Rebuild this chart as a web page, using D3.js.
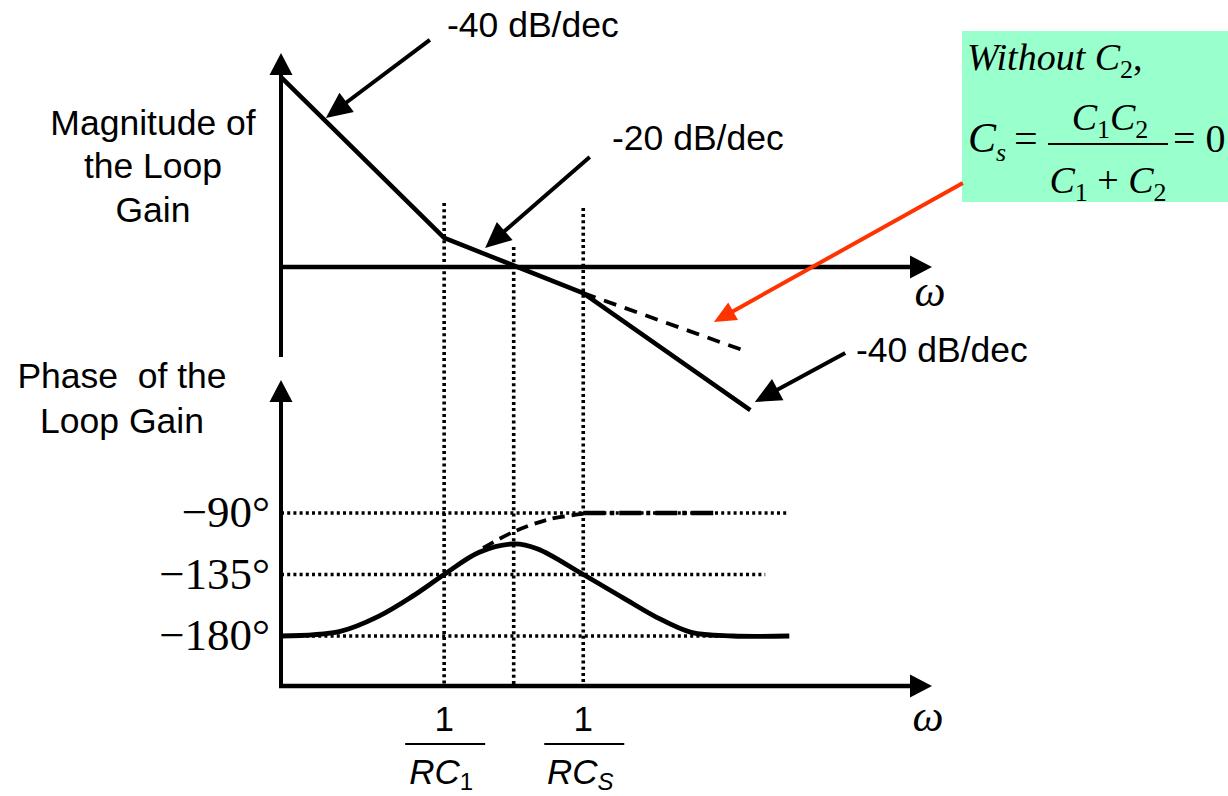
<!DOCTYPE html>
<html><head><meta charset="utf-8">
<script src="https://cdn.jsdelivr.net/npm/d3@7"></script>
<style>body{margin:0;background:#fff}svg{display:block}</style>
</head><body>
<svg id="c" width="1228" height="796"></svg>
<script>
// ---------------- data ----------------
const magW = [0, 25.1, 46.5, 72.2];
const magDB = [63.3, 9.7, -8.7, -47.7];
const magNoC2W = [46.5, 71.8];
const magNoC2DB = [-8.7, -28.3];
const phaseW = [0, 9.1, 15.0, 20.2, 25.1, 30.5, 35.9, 39.5, 46.5, 52.5, 57.8, 63.1, 69.5, 78.2];
const phaseDeg = [-180, -176.6, -165.6, -151, -135, -118.7, -112.6, -116.3, -135, -151.7, -166.3, -177.3, -180, -180];
const phaseNoC2W = [31.1, 35.7, 41.4, 46.5];
const phaseNoC2Deg = [-115.6, -103.9, -94.4, -90.7];
const phaseNoC2FlatW = [46.5, 67];
const phaseTicks = [-90, -135, -180];
const phaseTickLabels = ["\u221290\u00b0", "\u2212135\u00b0", "\u2212180\u00b0"];
const phaseGridEndW = [78.2, 74.5, 78.2];
const markerW = [25.1, 35.8, 46.5];
const markerTopDB = [21.3, 6.7, 19.7];
const markerLabels = [["1", "RC", "1"], null, ["1", "RC", "S"]];
const slopeLabels = ["-40 dB/dec", "-20 dB/dec", "-40 dB/dec"];
// annotation arrows: [tailW, tailDB, tipW, tipDB]
const slopeArrows = [[22.9, 75.7, 6.9, 49.7], [47.5, 36.7, 31.4, 6.3], [86.8, -28.7, 72.9, -45]];
const noteArrow = [104.9, 28, 66.6, -18.3];

// ---------------- layout ----------------
const svg = d3.select("#c");
const SANS = "'Liberation Sans', Arial, sans-serif";
const SERIF = "'Liberation Serif', 'Times New Roman', serif";
const x = d3.scaleLinear().domain([0, 100]).range([281, 931]);
const yMag = d3.scaleLinear().domain([-50, 70]).range([417, 57]);
const yPh = d3.scaleLinear().domain([-180, -90]).range([636, 513]);
const phAxisY = 686;

function arrow(x1, y1, x2, y2, color, w, len, half) {
  const dx = x2 - x1, dy = y2 - y1, L = Math.hypot(dx, dy);
  const ux = dx / L, uy = dy / L;
  const bx = x2 - ux * len, by = y2 - uy * len;
  svg.append("line").attr("x1", x1).attr("y1", y1).attr("x2", bx + ux * 2).attr("y2", by + uy * 2)
    .attr("stroke", color).attr("stroke-width", w);
  svg.append("polygon").attr("fill", color)
    .attr("points", [[x2, y2], [bx - uy * half, by + ux * half], [bx + uy * half, by - ux * half]].map(p => p.join(",")).join(" "));
}
const dotted = s => s.attr("stroke", "#000").attr("stroke-width", 3.6).attr("stroke-dasharray", "3 3.2").attr("fill", "none");

// vertical marker lines
markerW.forEach((w, i) => {
  svg.append("line").attr("x1", x(w)).attr("x2", x(w)).attr("y1", yMag(markerTopDB[i])).attr("y2", phAxisY).call(dotted);
});
// phase grid lines
phaseTicks.forEach((t, i) => {
  svg.append("line").attr("x1", x(0)).attr("x2", x(phaseGridEndW[i])).attr("y1", yPh(t)).attr("y2", yPh(t)).call(dotted);
  svg.append("text").attr("x", 270).attr("y", yPh(t) + 14).attr("text-anchor", "end")
    .attr("font-family", SERIF).attr("font-size", 45).text(phaseTickLabels[i]);
});

// axes
arrow(x(0), 357, x(0), 53, "#000", 4, 22, 11.5);
arrow(x(0), yMag(0), 932, yMag(0), "#000", 4.5, 22, 11.5);
arrow(x(0), phAxisY, x(0), 380, "#000", 4, 22, 11.5);
arrow(x(0) - 2, phAxisY, 932, phAxisY, "#000", 4.5, 22, 11.5);

// magnitude curves
const magLine = d3.line().x(d => x(d[0])).y(d => yMag(d[1]));
svg.append("path").attr("d", magLine(magNoC2W.map((w, i) => [w, magNoC2DB[i]])))
  .attr("fill", "none").attr("stroke", "#000").attr("stroke-width", 3.8).attr("stroke-dasharray", "13 9");
svg.append("path").attr("d", magLine(magW.map((w, i) => [w, magDB[i]])))
  .attr("fill", "none").attr("stroke", "#000").attr("stroke-width", 4.5).attr("stroke-linejoin", "round");

// phase curves
const phLine = d3.line().x(d => x(d[0])).y(d => yPh(d[1])).curve(d3.curveCatmullRom.alpha(0.5));
svg.append("path").attr("d", phLine(phaseNoC2W.map((w, i) => [w, phaseNoC2Deg[i]])))
  .attr("fill", "none").attr("stroke", "#000").attr("stroke-width", 3.8).attr("stroke-dasharray", "12 7");
svg.append("line").attr("x1", x(phaseNoC2FlatW[0])).attr("x2", x(phaseNoC2FlatW[1]))
  .attr("y1", yPh(-90)).attr("y2", yPh(-90))
  .attr("stroke", "#000").attr("stroke-width", 4.4).attr("stroke-dasharray", "22 5 4 5");
svg.append("path").attr("d", phLine(phaseW.map((w, i) => [w, phaseDeg[i]])))
  .attr("fill", "none").attr("stroke", "#000").attr("stroke-width", 4.8);

// slope annotations
slopeArrows.forEach(a => arrow(x(a[0]), yMag(a[1]), x(a[2]), yMag(a[3]), "#000", 4, 26, 12));
const slopePos = [[447, 37], [612, 150], [856, 362]];
slopeLabels.forEach((t, i) => svg.append("text").attr("x", slopePos[i][0]).attr("y", slopePos[i][1])
  .attr("font-family", SANS).attr("font-size", 35.5).text(t));

// axis titles
[["Magnitude of", 153, 135], ["the Loop", 153, 178], ["Gain", 153, 222],
 ["Phase\u00a0 of the", 122, 388], ["Loop Gain", 122, 433]].forEach(d =>
  svg.append("text").attr("x", d[1]).attr("y", d[2]).attr("text-anchor", "middle")
    .attr("font-family", SANS).attr("font-size", 35.5).text(d[0]));

// omega labels
[[930, 306], [928, 731]].forEach(p => svg.append("text").attr("x", p[0]).attr("y", p[1]).attr("text-anchor", "middle")
  .attr("font-family", SERIF).attr("font-style", "italic").attr("font-size", 44).text("\u03c9"));

// 1/RC labels
markerW.forEach((w, i) => {
  const lab = markerLabels[i];
  if (!lab) return;
  const cx = x(w);
  svg.append("text").attr("x", cx).attr("y", 731).attr("text-anchor", "middle")
    .attr("font-family", SANS).attr("font-size", 35).text(lab[0]);
  svg.append("line").attr("x1", cx - 39).attr("x2", cx + 41).attr("y1", 744).attr("y2", 744)
    .attr("stroke", "#000").attr("stroke-width", 2);
  const t = svg.append("text").attr("x", cx - 3).attr("y", 784).attr("text-anchor", "middle")
    .attr("font-family", SANS).attr("font-style", "italic").attr("font-size", 35);
  t.append("tspan").text(lab[1]);
  t.append("tspan").attr("dy", 6).attr("font-size", 24).attr("font-style", lab[2] === "1" ? "normal" : "italic").text(lab[2]);
});

// note box
svg.append("rect").attr("x", 962).attr("y", 31).attr("width", 280).attr("height", 171).attr("fill", "#99ffcc");
arrow(x(noteArrow[0]), yMag(noteArrow[1]), x(noteArrow[2]), yMag(noteArrow[3]), "#ff3300", 4, 22, 10);
const n1 = svg.append("text").attr("x", 967).attr("y", 70).attr("font-family", SERIF).attr("font-size", 38);
n1.append("tspan").attr("font-style", "italic").text("Without C");
n1.append("tspan").attr("dy", 8).attr("font-size", 26).text("2");
n1.append("tspan").attr("dy", -8).text(",");
const n2 = svg.append("text").attr("x", 968).attr("y", 152).attr("font-family", SERIF).attr("font-size", 42);
n2.append("tspan").attr("font-style", "italic").text("C");
n2.append("tspan").attr("dy", 9).attr("font-size", 26).attr("font-style", "italic").text("s");
n2.append("tspan").attr("dy", -9).attr("x", 1014).text("=");
svg.append("line").attr("x1", 1048).attr("x2", 1168).attr("y1", 144).attr("y2", 144).attr("stroke", "#000").attr("stroke-width", 2);
const num = svg.append("text").attr("x", 1110).attr("y", 130).attr("text-anchor", "middle").attr("font-family", SERIF).attr("font-size", 38);
num.append("tspan").attr("font-style", "italic").text("C");
num.append("tspan").attr("dy", 8).attr("font-size", 26).text("1");
num.append("tspan").attr("dy", -8).attr("font-style", "italic").text("C");
num.append("tspan").attr("dy", 8).attr("font-size", 26).text("2");
const den = svg.append("text").attr("x", 1108).attr("y", 193).attr("text-anchor", "middle").attr("font-family", SERIF).attr("font-size", 38);
den.append("tspan").attr("font-style", "italic").text("C");
den.append("tspan").attr("dy", 8).attr("font-size", 26).text("1");
den.append("tspan").attr("dy", -8).text(" + ");
den.append("tspan").attr("font-style", "italic").text("C");
den.append("tspan").attr("dy", 8).attr("font-size", 26).text("2");
svg.append("text").attr("x", 1173).attr("y", 152).attr("font-family", SERIF).attr("font-size", 40).text("= 0");
</script>
</body></html>
